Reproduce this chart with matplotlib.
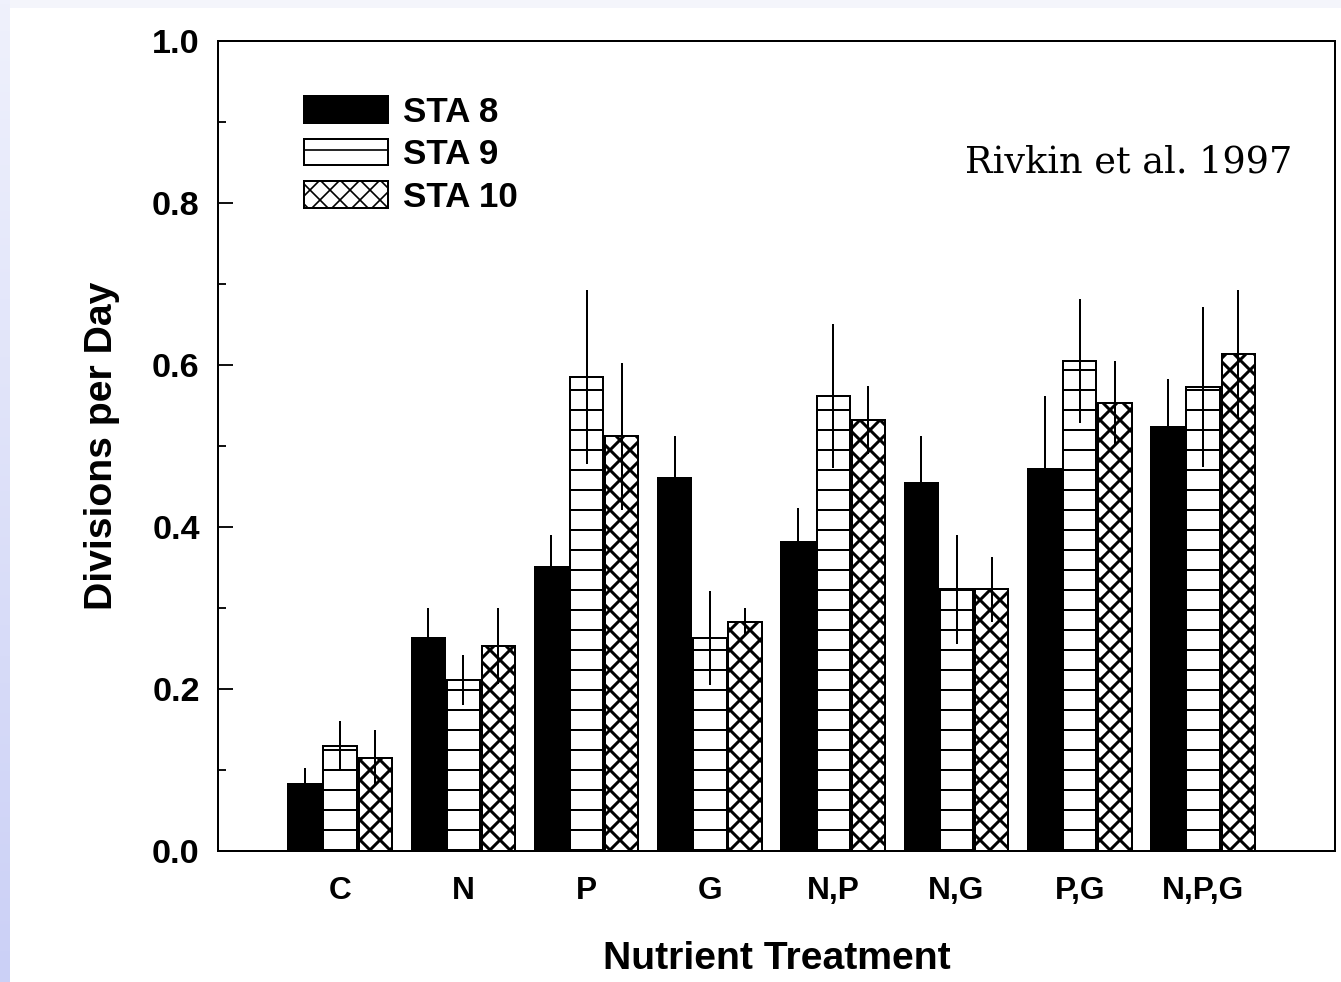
import numpy as np
import matplotlib
matplotlib.use("Agg")
import matplotlib.pyplot as plt
from matplotlib.ticker import MultipleLocator, FormatStrFormatter
from matplotlib.colors import LinearSegmentedColormap

# data
treatments = ['C', 'N', 'P', 'G', 'N,P', 'N,G', 'P,G', 'N,P,G']
stations = ['STA 8', 'STA 9', 'STA 10']
sta8 = [0.083, 0.263, 0.351, 0.461, 0.382, 0.454, 0.471, 0.523]
sta9 = [0.130, 0.211, 0.585, 0.263, 0.562, 0.323, 0.605, 0.573]
sta10 = [0.115, 0.253, 0.512, 0.283, 0.532, 0.323, 0.553, 0.614]
sta8_err = [0.019, 0.037, 0.039, 0.051, 0.041, 0.058, 0.091, 0.060]
sta9_err = [0.031, 0.031, 0.107, 0.058, 0.089, 0.067, 0.077, 0.099]
sta10_err = [0.035, 0.047, 0.091, 0.017, 0.042, 0.040, 0.052, 0.078]

DPI = 120
fig = plt.figure(figsize=(1341 / DPI, 982 / DPI), dpi=DPI, facecolor='#f4f5fb')

# white slide area + lavender strip on the left
fig.patches.append(plt.Rectangle((10 / 1341, 0), 1, 1 - 8 / 982, transform=fig.transFigure,
                                 facecolor='white', edgecolor='none', zorder=-5))
strip = fig.add_axes([0, 0, 10 / 1341, 1])
grad = np.linspace(0, 1, 256).reshape(-1, 1)
cmap = LinearSegmentedColormap.from_list('lav', ['#eff1fc', '#cbd0f6'])
strip.imshow(grad, aspect='auto', cmap=cmap, origin='upper')
strip.axis('off')

ax = fig.add_axes([218 / 1341, 1 - 851 / 982, (1335 - 218) / 1341, (851 - 41) / 982])
ax.set_facecolor('none')

x = np.arange(len(treatments))
w = 0.27
off = 0.285
errkw = dict(ecolor='black', elinewidth=1.2, capsize=0)

with plt.rc_context({'hatch.linewidth': 1.2}):
    ax.bar(x - off, sta8, w, yerr=sta8_err, color='black', edgecolor='black',
           linewidth=1.2, error_kw=errkw, label=stations[0], zorder=2)
    ax.bar(x, sta9, w, yerr=sta9_err, color='white', edgecolor='black', hatch='-',
           linewidth=1.2, error_kw=errkw, label=stations[1], zorder=2)
with plt.rc_context({'hatch.linewidth': 1.8}):
    ax.bar(x + off, sta10, w, yerr=sta10_err, color='white', edgecolor='black', hatch='xx',
           linewidth=1.2, error_kw=errkw, label=stations[2], zorder=2)

sans = 'Liberation Sans'
ax.set_xlim(-0.99, 8.07)
ax.set_ylim(0, 1.0)
ax.set_xticks(x)
ax.set_xticklabels(treatments, fontsize=19, fontweight='bold', family=sans)
ax.tick_params(axis='x', length=0, pad=15)
ax.yaxis.set_major_locator(MultipleLocator(0.2))
ax.yaxis.set_minor_locator(MultipleLocator(0.1))
ax.yaxis.set_major_formatter(FormatStrFormatter('%.1f'))
ax.tick_params(axis='y', which='major', direction='in', length=9, width=1.1, pad=11,
               labelsize=20.5)
ax.tick_params(axis='y', which='minor', direction='in', length=5, width=1.1)
for lab in ax.get_yticklabels():
    lab.set_family(sans)
    lab.set_fontweight('bold')
for sp in ax.spines.values():
    sp.set_linewidth(1.2)

ax.set_xlabel('Nutrient Treatment', fontsize=23.5, fontweight='bold', family=sans, labelpad=21)
ax.set_ylabel('Divisions per Day', fontsize=23.5, fontweight='bold', family=sans, labelpad=19)

ax.legend(loc='upper left', bbox_to_anchor=(0.061, 0.954), frameon=False,
          prop={'family': sans, 'size': 21, 'weight': 'bold'}, handlelength=2.4,
          handleheight=0.8, handletextpad=0.45, labelspacing=0.27, borderpad=0)

ax.text(0.962, 0.85, 'Rivkin et al. 1997', transform=ax.transAxes, ha='right', va='center',
        fontsize=22, family='DejaVu Serif')

fig.savefig('out.png', dpi=DPI, facecolor=fig.get_facecolor())
